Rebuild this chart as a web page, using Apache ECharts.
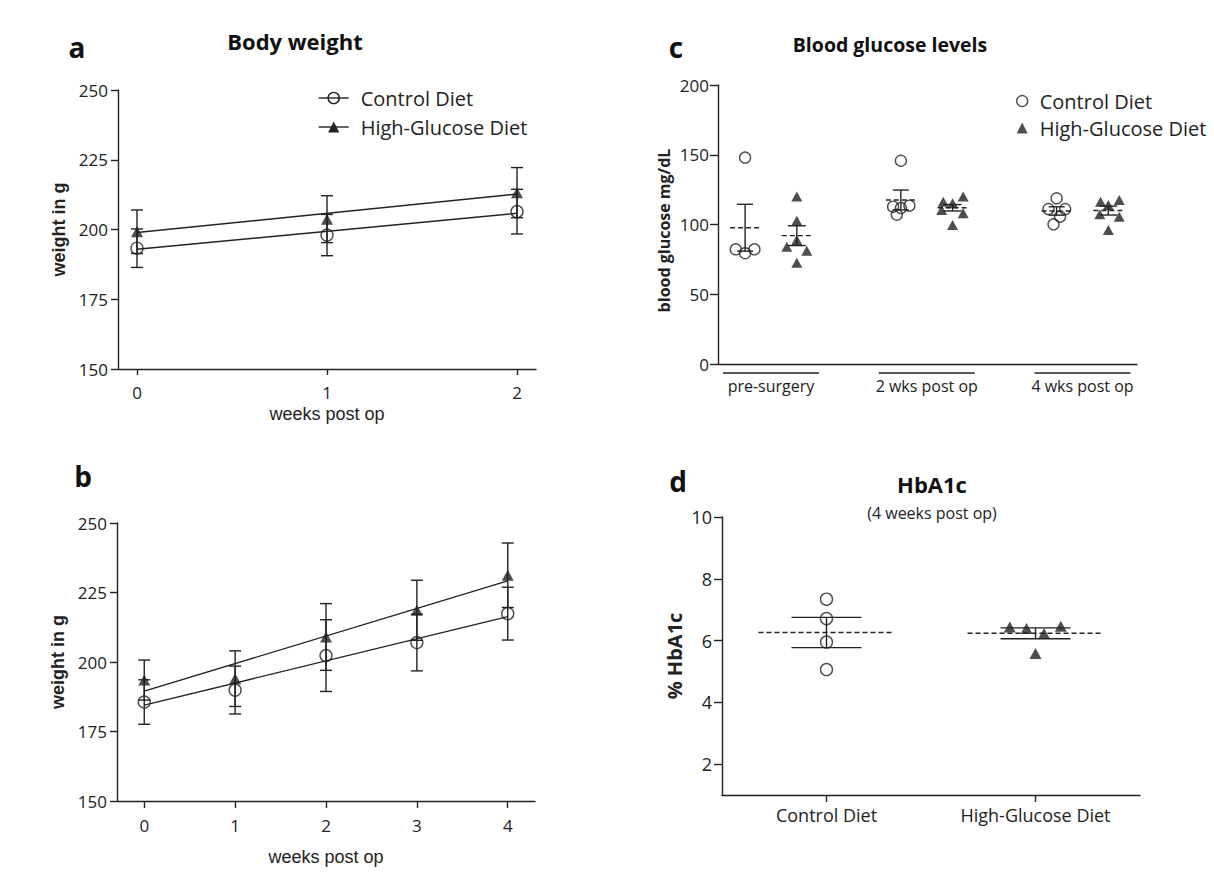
<!DOCTYPE html>
<html><head><meta charset="utf-8">
<script src="https://cdn.jsdelivr.net/npm/echarts@6/dist/echarts.min.js"></script>
<style>html,body{margin:0;padding:0;background:#fff}#c{width:1214px;height:874px}</style>
</head><body><div id="c"></div>
<script>
// ---------- Panel a : body weight, 2 weeks ----------
const weeksA = [0, 1, 2];
const ctrlMeanA = [193.3, 198.0, 206.4];
const ctrlSdA = [6.9, 7.4, 8.0];
const hgMeanA = [199.2, 203.7, 213.2];
const hgSdA = [7.8, 8.4, 9.0];
const fitWeeksA = [0, 2];
const ctrlFitA = [192.9, 205.8];
const hgFitA = [198.9, 212.7];

// ---------- Panel b : body weight, 4 weeks ----------
const weeksB = [0, 1, 2, 3, 4];
const ctrlMeanB = [185.6, 189.9, 202.3, 207.0, 217.4];
const ctrlSdB = [8.0, 8.6, 12.9, 10.2, 9.5];
const hgMeanB = [193.5, 194.0, 209.0, 218.6, 231.2];
const hgSdB = [7.2, 10.0, 12.0, 10.8, 11.6];
const fitWeeksB = [0, 4];
const ctrlFitB = [184.5, 216.3];
const hgFitB = [189.5, 229.2];

// ---------- Panel c : blood glucose ----------
const groupsC = ['pre-surgery', '2 wks post op', '4 wks post op'];
const ctrlC = [[148.0, 82.2, 79.4, 82.2], [145.7, 112.8, 111.8, 113.5, 107.0], [118.8, 111.1, 111.1, 105.6, 100.1]];
const hgC = [[120.0, 102.7, 88.9, 84.0, 81.2, 72.6], [116.3, 115.2, 120.0, 110.4, 108.0, 99.6], [116.3, 114.0, 117.6, 107.3, 105.6, 96.0]];
const ctrlMeanC = [97.7, 117.6, 109.7];
const ctrlSemC = [16.8, 7.1, 3.0];
const hgMeanC = [92.0, 112.0, 110.0];
const hgSemC = [7.1, 2.3, 3.2];
// horizontal spread of overlapping dots (fraction of a group width)
const ctrlSpreadC = [[0, -0.06, 0, 0.06], [0, -0.05, 0, 0.055, -0.026], [0, -0.052, 0.055, 0.022, -0.02]];
const hgSpreadC = [[0, 0, 0, -0.064, 0.064, 0], [-0.06, 0, 0.068, -0.07, 0.068, 0], [-0.05, 0, 0.07, -0.055, 0.07, 0]];

// ---------- Panel d : HbA1c ----------
const groupsD = ['Control Diet', 'High-Glucose Diet'];
const ctrlD = [7.34, 6.71, 5.95, 5.06];
const hgD = [6.44, 6.39, 6.23, 6.46, 5.58];
const ctrlSpreadD = [0, 0, 0, 0];
const hgSpreadD = [-0.123, -0.043, 0.041, 0.121, 0];
const meanD = [6.26, 6.235];
const semD = [0.49, 0.175];

const legendNames = { ctrlA: 'Control Diet', hgA: 'High-Glucose Diet', ctrlC: 'Control Diet', hgC: 'High-Glucose Diet' };

// ---------- styling ----------
const INK = '#222';
const CAL = "'Open Sans', 'Liberation Sans', sans-serif";
const ARI = "'Liberation Sans', Arial, sans-serif";
const OFF = 0.166;
const lw = 1.4;
const lineSt = { color: INK, width: lw };

function errBar(capHalf) {
  return function (params, api) {
    const x = api.value(0);
    const lo = api.coord([x, api.value(1)]);
    const hi = api.coord([x, api.value(2)]);
    const st = { stroke: INK, lineWidth: lw };
    return { type: 'group', children: [
      { type: 'line', shape: { x1: lo[0], y1: lo[1], x2: hi[0], y2: hi[1] }, style: st },
      { type: 'line', shape: { x1: lo[0] - capHalf, y1: lo[1], x2: lo[0] + capHalf, y2: lo[1] }, style: st },
      { type: 'line', shape: { x1: hi[0] - capHalf, y1: hi[1], x2: hi[0] + capHalf, y2: hi[1] }, style: st }
    ]};
  };
}
function meanSem(capHalf, dashHalf) {
  return function (params, api) {
    const x = api.value(0), m = api.value(1), s = api.value(2);
    const pm = api.coord([x, m]), pt = api.coord([x, m + s]), pb = api.coord([x, m - s]);
    const st = { stroke: INK, lineWidth: lw };
    return { type: 'group', children: [
      { type: 'line', shape: { x1: pm[0] - dashHalf, y1: pm[1], x2: pm[0] + dashHalf, y2: pm[1] }, style: { stroke: INK, lineWidth: lw, lineDash: [5, 3] } },
      { type: 'line', shape: { x1: pt[0], y1: pt[1], x2: pb[0], y2: pb[1] }, style: st },
      { type: 'line', shape: { x1: pt[0] - capHalf, y1: pt[1], x2: pt[0] + capHalf, y2: pt[1] }, style: st },
      { type: 'line', shape: { x1: pb[0] - capHalf, y1: pb[1], x2: pb[0] + capHalf, y2: pb[1] }, style: st }
    ]};
  };
}

const circleStyle = { color: 'rgba(0,0,0,0)', borderColor: INK, borderWidth: lw };
const triStyle = { color: INK };

function xyAxis(base) {
  return Object.assign({
    type: 'value',
    axisLine: { show: true, onZero: false, lineStyle: lineSt },
    axisTick: { show: true, length: 7, lineStyle: lineSt },
    splitLine: { show: false },
    axisLabel: { color: INK, fontFamily: CAL, fontSize: 17 }
  }, base);
}

const errA_c = weeksA.map((w, i) => [w, ctrlMeanA[i] - ctrlSdA[i], ctrlMeanA[i] + ctrlSdA[i]]);
const errA_h = weeksA.map((w, i) => [w, hgMeanA[i] - hgSdA[i], hgMeanA[i] + hgSdA[i]]);
const errB_c = weeksB.map((w, i) => [w, ctrlMeanB[i] - ctrlSdB[i], ctrlMeanB[i] + ctrlSdB[i]]);
const errB_h = weeksB.map((w, i) => [w, hgMeanB[i] - hgSdB[i], hgMeanB[i] + hgSdB[i]]);

const ptsCtrlC = [], ptsHgC = [];
ctrlC.forEach((vals, i) => vals.forEach((v, j) => ptsCtrlC.push([i - OFF + ctrlSpreadC[i][j], v])));
hgC.forEach((vals, i) => vals.forEach((v, j) => ptsHgC.push([i + OFF + hgSpreadC[i][j], v])));
const msCtrlC = groupsC.map((g, i) => [i - OFF, ctrlMeanC[i], ctrlSemC[i]]);
const msHgC = groupsC.map((g, i) => [i + OFF, hgMeanC[i], hgSemC[i]]);

const ptsCtrlD = ctrlD.map((v, j) => [0 + ctrlSpreadD[j], v]);
const ptsHgD = hgD.map((v, j) => [1 + hgSpreadD[j], v]);
const msD = groupsD.map((g, i) => [i, meanD[i], semD[i]]);

const chart = echarts.init(document.getElementById('c'), null, { renderer: 'svg' });
const option = {
  backgroundColor: '#fff',
  animation: false,
  grid: [
    { left: 118, top: 90, width: 418, height: 279 },
    { left: 117, top: 523, width: 418, height: 278 },
    { left: 718, top: 85, width: 419, height: 279 },
    { left: 722, top: 517, width: 418, height: 278 }
  ],
  xAxis: [
    xyAxis({ gridIndex: 0, min: -0.1, max: 2.1,
      axisLabel: { customValues: weeksA, margin: 15, color: INK, fontFamily: CAL, fontSize: 17 },
      axisTick: { show: true, customValues: weeksA, length: 6, lineStyle: lineSt },
      name: 'weeks post op', nameLocation: 'middle', nameGap: 36,
      nameTextStyle: { color: INK, fontFamily: ARI, fontSize: 18 } }),
    xyAxis({ gridIndex: 1, min: -0.3, max: 4.3,
      axisLabel: { customValues: weeksB, margin: 16, color: INK, fontFamily: CAL, fontSize: 17 },
      axisTick: { show: true, customValues: weeksB, length: 7, lineStyle: lineSt },
      name: 'weeks post op', nameLocation: 'middle', nameGap: 47,
      nameTextStyle: { color: INK, fontFamily: ARI, fontSize: 18 } }),
    xyAxis({ gridIndex: 2, min: -0.34, max: 2.35,
      axisLabel: { customValues: [0, 1, 2], margin: 14, color: INK, fontFamily: CAL, fontSize: 16,
        formatter: v => groupsC[Math.round(v)] },
      axisTick: { show: false } }),
    xyAxis({ gridIndex: 3, min: -0.5, max: 1.5,
      axisLabel: { customValues: [0, 1], margin: 11, color: INK, fontFamily: CAL, fontSize: 18,
        formatter: v => groupsD[Math.round(v)] },
      axisTick: { show: true, customValues: [0, 1], length: 7, lineStyle: lineSt } })
  ],
  yAxis: [
    xyAxis({ gridIndex: 0, min: 150, max: 250, interval: 25,
      axisLabel: { margin: 10, color: INK, fontFamily: CAL, fontSize: 17 },
      name: 'weight in g', nameLocation: 'middle', nameRotate: 90, nameGap: 50,
      nameTextStyle: { color: INK, fontFamily: ARI, fontSize: 18, fontWeight: 'bold' } }),
    xyAxis({ gridIndex: 1, min: 150, max: 250, interval: 25,
      axisLabel: { margin: 10, color: INK, fontFamily: CAL, fontSize: 17 },
      name: 'weight in g', nameLocation: 'middle', nameRotate: 90, nameGap: 50,
      nameTextStyle: { color: INK, fontFamily: ARI, fontSize: 18, fontWeight: 'bold' } }),
    xyAxis({ gridIndex: 2, min: 0, max: 200, interval: 50,
      axisLabel: { margin: 9, color: INK, fontFamily: CAL, fontSize: 17 },
      axisTick: { show: true, length: 8, lineStyle: lineSt },
      name: 'blood glucose mg/dL', nameLocation: 'middle', nameRotate: 90, nameGap: 46,
      nameTextStyle: { color: INK, fontFamily: CAL, fontSize: 16, fontWeight: 'bold', padding: [0, 12, 0, 0] } }),
    xyAxis({ gridIndex: 3, min: 1, max: 10,
      axisLabel: { customValues: [2, 4, 6, 8, 10], margin: 10, color: INK, fontFamily: CAL, fontSize: 18 },
      axisTick: { show: true, customValues: [2, 4, 6, 8, 10], length: 8, lineStyle: lineSt },
      name: '% HbA1c', nameLocation: 'middle', nameRotate: 90, nameGap: 38,
      nameTextStyle: { color: INK, fontFamily: CAL, fontSize: 20, fontWeight: 'bold' } })
  ],
  legend: [
    { data: ['ctrlA', 'hgA'], orient: 'vertical', left: 318, top: 87, padding: 0, itemWidth: 30, itemHeight: 14, itemGap: 7,
      formatter: n => legendNames[n], selectedMode: false,
      lineStyle: { color: INK, width: lw },
      itemStyle: { borderWidth: lw },
      textStyle: { color: INK, fontFamily: CAL, fontSize: 20, lineHeight: 22, padding: [0, 0, 0, 7] } },
    { data: ['ctrlC', 'hgC'], orient: 'vertical', left: 1016, top: 90, padding: 0, itemWidth: 11, itemHeight: 11, itemGap: 5,
      formatter: n => legendNames[n], selectedMode: false,
      itemStyle: { borderWidth: lw },
      textStyle: { color: INK, fontFamily: CAL, fontSize: 20, lineHeight: 22, padding: [0, 0, 0, 7] } }
  ],
  graphic: [
    { type: 'text', x: 77, y: 47, style: { text: 'a', font: "bold 28px 'Open Sans'", fill: '#111', align: 'center', verticalAlign: 'middle' } },
    { type: 'text', x: 295, y: 41, style: { text: 'Body weight', font: "bold 22px 'Open Sans'", fill: '#111', align: 'center', verticalAlign: 'middle' } },
    { type: 'text', x: 83, y: 476, style: { text: 'b', font: "bold 28px 'Open Sans'", fill: '#111', align: 'center', verticalAlign: 'middle' } },
    { type: 'text', x: 676, y: 47, style: { text: 'c', font: "bold 28px 'Open Sans'", fill: '#111', align: 'center', verticalAlign: 'middle' } },
    { type: 'text', x: 890, y: 44, style: { text: 'Blood glucose levels', font: "bold 19.5px 'Open Sans'", fill: '#111', align: 'center', verticalAlign: 'middle' } },
    { type: 'text', x: 678, y: 481, style: { text: 'd', font: "bold 28px 'Open Sans'", fill: '#111', align: 'center', verticalAlign: 'middle' } },
    { type: 'text', x: 932, y: 484, style: { text: 'HbA1c', font: "bold 22px 'Open Sans'", fill: '#111', align: 'center', verticalAlign: 'middle' } },
    { type: 'text', x: 932, y: 513, style: { text: '(4 weeks post op)', font: "16px 'Open Sans'", fill: INK, align: 'center', verticalAlign: 'middle' } }
  ],
  series: [
    // panel a
    { type: 'custom', name: 'errA_c', xAxisIndex: 0, yAxisIndex: 0, renderItem: errBar(6), data: errA_c, encode: { x: 0, y: [1, 2] }, z: 2 },
    { type: 'custom', name: 'errA_h', xAxisIndex: 0, yAxisIndex: 0, renderItem: errBar(6), data: errA_h, encode: { x: 0, y: [1, 2] }, z: 2 },
    { type: 'line', name: 'ctrlA', xAxisIndex: 0, yAxisIndex: 0, data: fitWeeksA.map((w, i) => [w, ctrlFitA[i]]),
      symbol: 'circle', showSymbol: false, lineStyle: lineSt, itemStyle: circleStyle, z: 3 },
    { type: 'line', name: 'hgA', xAxisIndex: 0, yAxisIndex: 0, data: fitWeeksA.map((w, i) => [w, hgFitA[i]]),
      symbol: 'triangle', showSymbol: false, lineStyle: lineSt, itemStyle: triStyle, z: 3 },
    { type: 'scatter', name: 'mCtrlA', xAxisIndex: 0, yAxisIndex: 0, data: weeksA.map((w, i) => [w, ctrlMeanA[i]]),
      symbol: 'circle', symbolSize: 12, itemStyle: circleStyle, z: 4 },
    { type: 'scatter', name: 'mHgA', xAxisIndex: 0, yAxisIndex: 0, data: weeksA.map((w, i) => [w, hgMeanA[i]]),
      symbol: 'triangle', symbolSize: [12, 11], itemStyle: triStyle, z: 4 },
    // panel b
    { type: 'custom', name: 'errB_c', xAxisIndex: 1, yAxisIndex: 1, renderItem: errBar(6), data: errB_c, encode: { x: 0, y: [1, 2] }, z: 2 },
    { type: 'custom', name: 'errB_h', xAxisIndex: 1, yAxisIndex: 1, renderItem: errBar(6), data: errB_h, encode: { x: 0, y: [1, 2] }, z: 2 },
    { type: 'line', name: 'fitCtrlB', xAxisIndex: 1, yAxisIndex: 1, data: fitWeeksB.map((w, i) => [w, ctrlFitB[i]]),
      showSymbol: false, lineStyle: lineSt, z: 3 },
    { type: 'line', name: 'fitHgB', xAxisIndex: 1, yAxisIndex: 1, data: fitWeeksB.map((w, i) => [w, hgFitB[i]]),
      showSymbol: false, lineStyle: lineSt, z: 3 },
    { type: 'scatter', name: 'mCtrlB', xAxisIndex: 1, yAxisIndex: 1, data: weeksB.map((w, i) => [w, ctrlMeanB[i]]),
      symbol: 'circle', symbolSize: 12, itemStyle: circleStyle, z: 4 },
    { type: 'scatter', name: 'mHgB', xAxisIndex: 1, yAxisIndex: 1, data: weeksB.map((w, i) => [w, hgMeanB[i]]),
      symbol: 'triangle', symbolSize: [12, 11], itemStyle: triStyle, z: 4 },
    // panel c
    { type: 'custom', name: 'underlineC', xAxisIndex: 2, yAxisIndex: 2, clip: false, silent: true,
      data: groupsC.map((g, i) => [i]),
      renderItem: function (params, api) {
        const i = api.value(0);
        const a = api.coord([i - 0.308, 0]), b = api.coord([i + 0.308, 0]);
        return { type: 'line', shape: { x1: a[0], y1: a[1] + 9, x2: b[0], y2: b[1] + 9 }, style: { stroke: INK, lineWidth: lw } };
      } },
    { type: 'custom', name: 'msCtrlC', xAxisIndex: 2, yAxisIndex: 2, renderItem: meanSem(8, 15), data: msCtrlC, encode: { x: 0, y: 1 }, z: 3 },
    { type: 'custom', name: 'msHgC', xAxisIndex: 2, yAxisIndex: 2, renderItem: meanSem(9, 15), data: msHgC, encode: { x: 0, y: 1 }, z: 3 },
    { type: 'scatter', name: 'ctrlC', xAxisIndex: 2, yAxisIndex: 2, data: ptsCtrlC,
      symbol: 'circle', symbolSize: 11, itemStyle: circleStyle, z: 4 },
    { type: 'scatter', name: 'hgC', xAxisIndex: 2, yAxisIndex: 2, data: ptsHgC,
      symbol: 'triangle', symbolSize: [11, 10], itemStyle: triStyle, z: 4 },
    // panel d
    { type: 'custom', name: 'msD', xAxisIndex: 3, yAxisIndex: 3, renderItem: meanSem(35, 68), data: msD, encode: { x: 0, y: 1 }, z: 3 },
    { type: 'scatter', name: 'ctrlD', xAxisIndex: 3, yAxisIndex: 3, data: ptsCtrlD,
      symbol: 'circle', symbolSize: 12, itemStyle: circleStyle, z: 4 },
    { type: 'scatter', name: 'hgD', xAxisIndex: 3, yAxisIndex: 3, data: ptsHgD,
      symbol: 'triangle', symbolSize: [12, 11], itemStyle: triStyle, z: 4 }
  ]
};
chart.setOption(option);
</script>
</body></html>
